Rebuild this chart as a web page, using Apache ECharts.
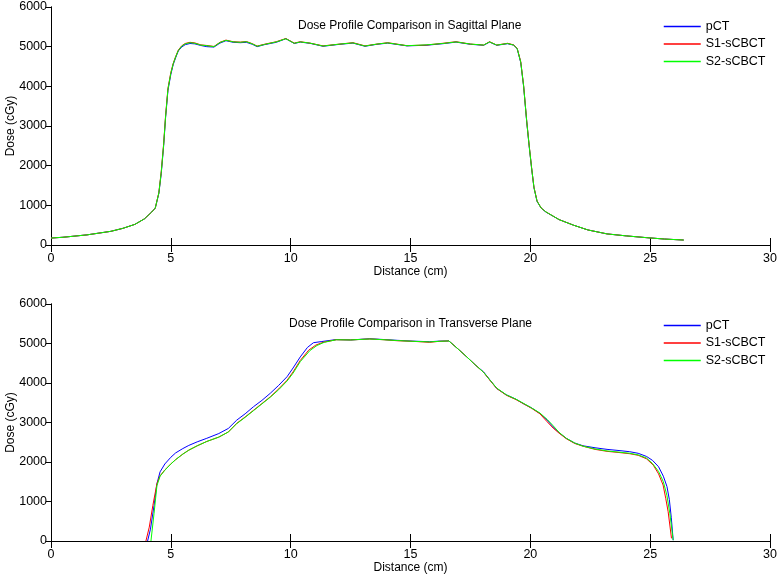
<!DOCTYPE html>
<html>
<head>
<meta charset="utf-8">
<script src="https://cdn.jsdelivr.net/npm/echarts@6/dist/echarts.min.js"></script>
<style>
  html, body { margin: 0; padding: 0; background: #fff; }
  #main { width: 777px; height: 578px; }
</style>
</head>
<body>
<div id="main"></div>
<script>
var xTicks = [0, 5, 10, 15, 20, 25, 30];
var yTicks = [0, 1000, 2000, 3000, 4000, 5000, 6000];
var seriesNames = ['pCT', 'S1-sCBCT', 'S2-sCBCT'];
var plotTitles = ['Dose Profile Comparison in Sagittal Plane', 'Dose Profile Comparison in Transverse Plane'];

/* sagittal plane: [distance cm, dose cGy] */
var sagPct = [[0,175],[0.5,195],[1,225],[1.5,255],[2,300],[2.5,345],[3,420],[3.5,520],[3.9,660],[4.2,830],[4.35,930],[4.5,1300],[4.6,1800],[4.7,2500],[4.78,3200],[4.88,3900],[5.0,4300],[5.1,4550],[5.2,4720],[5.31,4890],[5.45,4990],[5.6,5050],[5.8,5080],[6.0,5070],[6.25,5030],[6.5,5000],[6.8,4990],[7.05,5090],[7.3,5150],[7.6,5110],[7.9,5100],[8.15,5110],[8.4,5060],[8.6,5000],[8.9,5050],[9.4,5110],[9.8,5200],[10.15,5080],[10.4,5115],[10.8,5085],[11.35,5010],[12.05,5060],[12.6,5090],[13.1,5010],[13.6,5060],[14.05,5090],[14.85,5020],[15.65,5035],[16.35,5075],[16.9,5115],[17.5,5060],[18.05,5035],[18.3,5115],[18.6,5035],[19.05,5075],[19.3,5040],[19.45,4950],[19.6,4600],[19.72,4000],[19.85,3100],[19.95,2500],[20.05,1950],[20.15,1450],[20.28,1100],[20.45,930],[20.65,830],[21.2,640],[21.8,500],[22.4,380],[23.2,280],[24,230],[24.85,185],[25.6,150],[26.4,125]];
var sagS1 = [[0,175],[0.5,195],[1,225],[1.5,255],[2,300],[2.5,345],[3,420],[3.5,520],[3.9,660],[4.2,830],[4.35,930],[4.5,1320],[4.6,1850],[4.7,2550],[4.78,3250],[4.88,3950],[5.0,4350],[5.1,4580],[5.2,4750],[5.31,4910],[5.45,5020],[5.6,5080],[5.8,5110],[6.0,5095],[6.25,5045],[6.5,5030],[6.8,5005],[7.05,5110],[7.3,5165],[7.6,5125],[7.9,5115],[8.15,5130],[8.4,5075],[8.6,5015],[8.9,5060],[9.4,5125],[9.8,5205],[10.15,5090],[10.4,5125],[10.8,5090],[11.35,5020],[12.05,5065],[12.6,5100],[13.1,5020],[13.6,5065],[14.05,5100],[14.85,5025],[15.65,5040],[16.35,5085],[16.9,5125],[17.5,5065],[18.05,5040],[18.3,5125],[18.6,5040],[19.05,5085],[19.3,5045],[19.45,4960],[19.6,4620],[19.72,4020],[19.85,3120],[19.95,2520],[20.05,1960],[20.15,1460],[20.28,1110],[20.45,935],[20.65,835],[21.2,640],[21.8,500],[22.4,380],[23.2,280],[24,230],[24.85,185],[25.6,150],[26.4,125]];
var sagS2 = [[0,175],[0.5,195],[1,225],[1.5,255],[2,300],[2.5,345],[3,420],[3.5,520],[3.9,660],[4.2,830],[4.35,930],[4.5,1310],[4.6,1830],[4.7,2530],[4.78,3230],[4.88,3930],[5.0,4330],[5.1,4570],[5.2,4740],[5.31,4900],[5.45,5010],[5.6,5070],[5.8,5100],[6.0,5085],[6.25,5040],[6.5,5025],[6.8,5000],[7.05,5105],[7.3,5160],[7.6,5120],[7.9,5110],[8.15,5125],[8.4,5070],[8.6,5010],[8.9,5055],[9.4,5120],[9.8,5200],[10.15,5085],[10.4,5120],[10.8,5090],[11.35,5015],[12.05,5065],[12.6,5095],[13.1,5015],[13.6,5065],[14.05,5095],[14.85,5025],[15.65,5045],[16.35,5080],[16.9,5120],[17.5,5065],[18.05,5040],[18.3,5120],[18.6,5040],[19.05,5080],[19.3,5040],[19.45,4955],[19.6,4610],[19.72,4010],[19.85,3110],[19.95,2510],[20.05,1955],[20.15,1455],[20.28,1105],[20.45,935],[20.65,835],[21.2,640],[21.8,500],[22.4,380],[23.2,280],[24,230],[24.85,185],[25.6,150],[26.4,125]];

/* transverse plane: [distance cm, dose cGy] */
var traPct = [[4.03,0],[4.15,300],[4.3,900],[4.42,1450],[4.55,1750],[4.75,1950],[5.0,2120],[5.2,2230],[5.5,2340],[5.75,2420],[6.1,2510],[6.5,2600],[7.0,2720],[7.4,2850],[7.75,3060],[8.1,3220],[8.45,3400],[8.8,3560],[9.15,3740],[9.5,3940],[9.85,4160],[10.1,4380],[10.4,4660],[10.7,4900],[10.95,5020],[11.3,5050],[11.9,5100],[12.5,5090],[13.3,5120],[13.9,5100],[14.45,5080],[15.1,5060],[15.8,5045],[16.2,5060],[16.6,5065],[16.95,4880],[17.35,4660],[17.7,4460],[18.05,4280],[18.35,4050],[18.6,3860],[19.0,3700],[19.4,3590],[19.7,3480],[20.05,3370],[20.4,3230],[20.7,3060],[20.95,2890],[21.2,2740],[21.5,2600],[21.85,2480],[22.2,2410],[22.7,2360],[23.2,2320],[23.7,2290],[24.15,2260],[24.5,2220],[24.85,2140],[25.1,2040],[25.35,1880],[25.55,1640],[25.7,1380],[25.8,1050],[25.88,600],[25.96,20]];
var traS1 = [[3.96,0],[4.1,350],[4.25,900],[4.42,1450],[4.55,1650],[4.75,1800],[5.0,1950],[5.2,2060],[5.5,2200],[5.75,2300],[6.1,2410],[6.5,2520],[7.0,2630],[7.4,2760],[7.75,2980],[8.1,3140],[8.45,3310],[8.8,3480],[9.15,3650],[9.5,3850],[9.85,4070],[10.1,4280],[10.4,4570],[10.75,4830],[11.05,4960],[11.35,5030],[11.9,5095],[12.5,5090],[13.3,5115],[13.9,5095],[14.45,5070],[15.1,5055],[15.8,5030],[16.2,5055],[16.6,5065],[16.95,4880],[17.35,4660],[17.7,4460],[18.05,4270],[18.35,4040],[18.6,3860],[19.0,3690],[19.4,3580],[19.7,3480],[20.05,3360],[20.4,3220],[20.7,3020],[20.95,2860],[21.2,2730],[21.5,2590],[21.85,2470],[22.2,2400],[22.7,2320],[23.2,2270],[23.7,2240],[24.15,2210],[24.5,2170],[24.85,2080],[25.13,1920],[25.35,1700],[25.54,1417],[25.65,1080],[25.75,741],[25.89,68]];
var traS2 = [[4.17,0],[4.3,700],[4.42,1400],[4.55,1640],[4.75,1790],[5.0,1950],[5.2,2060],[5.5,2200],[5.75,2300],[6.1,2410],[6.5,2520],[7.0,2630],[7.4,2760],[7.75,2970],[8.1,3130],[8.45,3300],[8.8,3470],[9.15,3640],[9.5,3830],[9.85,4050],[10.1,4250],[10.4,4540],[10.8,4820],[11.1,4950],[11.4,5030],[11.9,5095],[12.5,5090],[13.3,5115],[13.9,5095],[14.45,5075],[15.1,5055],[15.8,5040],[16.2,5055],[16.6,5065],[16.95,4880],[17.35,4660],[17.7,4460],[18.05,4270],[18.35,4050],[18.6,3870],[19.0,3700],[19.4,3590],[19.7,3490],[20.05,3370],[20.4,3240],[20.7,3080],[20.95,2920],[21.2,2750],[21.5,2600],[21.85,2480],[22.2,2400],[22.7,2330],[23.2,2280],[23.7,2250],[24.15,2220],[24.5,2180],[24.85,2100],[25.1,1960],[25.35,1760],[25.55,1500],[25.7,1150],[25.82,700],[25.96,20]];

var colors = ['#0000ff', '#ff0000', '#00ff00'];
var fontFam = '"Liberation Sans", Arial, sans-serif';

var myChart = echarts.init(document.getElementById('main'));

var grids = [
    {left: 51, top: 7, width: 719, height: 238, outerBoundsMode: 'none', containLabel: false},
    {left: 51, top: 304, width: 719, height: 237, outerBoundsMode: 'none', containLabel: false}
];

function xAx(gi, pos) {
    var main = pos === 'bottom';
    return {
        type: 'value', gridIndex: gi, position: pos,
        min: xTicks[0], max: xTicks[xTicks.length - 1], interval: xTicks[1] - xTicks[0],
        name: main ? 'Distance (cm)' : '', nameLocation: 'middle', nameGap: 18,
        nameTextStyle: {color: '#000', fontSize: 12, fontFamily: fontFam, verticalAlign: 'top'},
        axisLine: {show: true, lineStyle: {color: '#000', width: 1}},
        axisTick: {show: true, inside: true, length: 7, lineStyle: {color: '#000'}},
        axisLabel: {show: main, color: '#000', fontSize: 12.5, fontFamily: fontFam, margin: 7,
                    formatter: function (v) { return String(v); }},
        splitLine: {show: false}
    };
}
function yAx(gi, pos) {
    var main = pos === 'left';
    return {
        type: 'value', gridIndex: gi, position: pos,
        min: yTicks[0], max: yTicks[yTicks.length - 1], interval: yTicks[1] - yTicks[0],
        name: main ? 'Dose (cGy)' : '', nameLocation: 'middle', nameGap: 40, nameRotate: 90,
        nameTextStyle: {color: '#000', fontSize: 12, fontFamily: fontFam, verticalAlign: 'middle'},
        nameMoveOverlap: false,
        axisLine: {show: true, lineStyle: {color: '#000', width: 1}},
        axisTick: {show: !main, inside: true, length: 5, lineStyle: {color: '#000'}},
        axisLabel: {show: main, color: '#000', fontSize: 12.5, fontFamily: fontFam, margin: 4,
                    formatter: function (v) { return String(v); }},
        splitLine: {show: false}
    };
}

function lineSeries(name, data, xi, yi, ci) {
    return {
        name: name, type: 'line', data: data, xAxisIndex: xi, yAxisIndex: yi,
        symbol: 'none', smooth: false,
        lineStyle: {color: colors[ci], width: 1},
        itemStyle: {color: colors[ci]}
    };
}

function legendAt(top) {
    return {
        data: seriesNames, orient: 'vertical', left: 658, top: top,
        itemWidth: 37, itemHeight: 14, itemGap: 4.5,
        itemStyle: {opacity: 0},
        lineStyle: {width: 1.5},
        textStyle: {fontSize: 12.5, color: '#000', fontFamily: fontFam}
    };
}

myChart.setOption({
    animation: false,
    backgroundColor: '#fff',
    title: [
        {text: plotTitles[0], left: 293, top: 15, textStyle: {fontSize: 12, fontWeight: 'normal', color: '#000', fontFamily: fontFam}},
        {text: plotTitles[1], left: 284, top: 313, textStyle: {fontSize: 12, fontWeight: 'normal', color: '#000', fontFamily: fontFam}}
    ],
    legend: [legendAt(15), legendAt(314)],
    grid: grids,
    xAxis: [xAx(0, 'bottom'), xAx(0, 'top'), xAx(1, 'bottom'), xAx(1, 'top')],
    yAxis: [yAx(0, 'left'), yAx(0, 'right'), yAx(1, 'left'), yAx(1, 'right')],
    series: [
        lineSeries(seriesNames[0], sagPct, 0, 0, 0),
        lineSeries(seriesNames[1], sagS1, 0, 0, 1),
        lineSeries(seriesNames[2], sagS2, 0, 0, 2),
        lineSeries(seriesNames[0], traPct, 2, 2, 0),
        lineSeries(seriesNames[1], traS1, 2, 2, 1),
        lineSeries(seriesNames[2], traS2, 2, 2, 2)
    ]
});
</script>
</body>
</html>
